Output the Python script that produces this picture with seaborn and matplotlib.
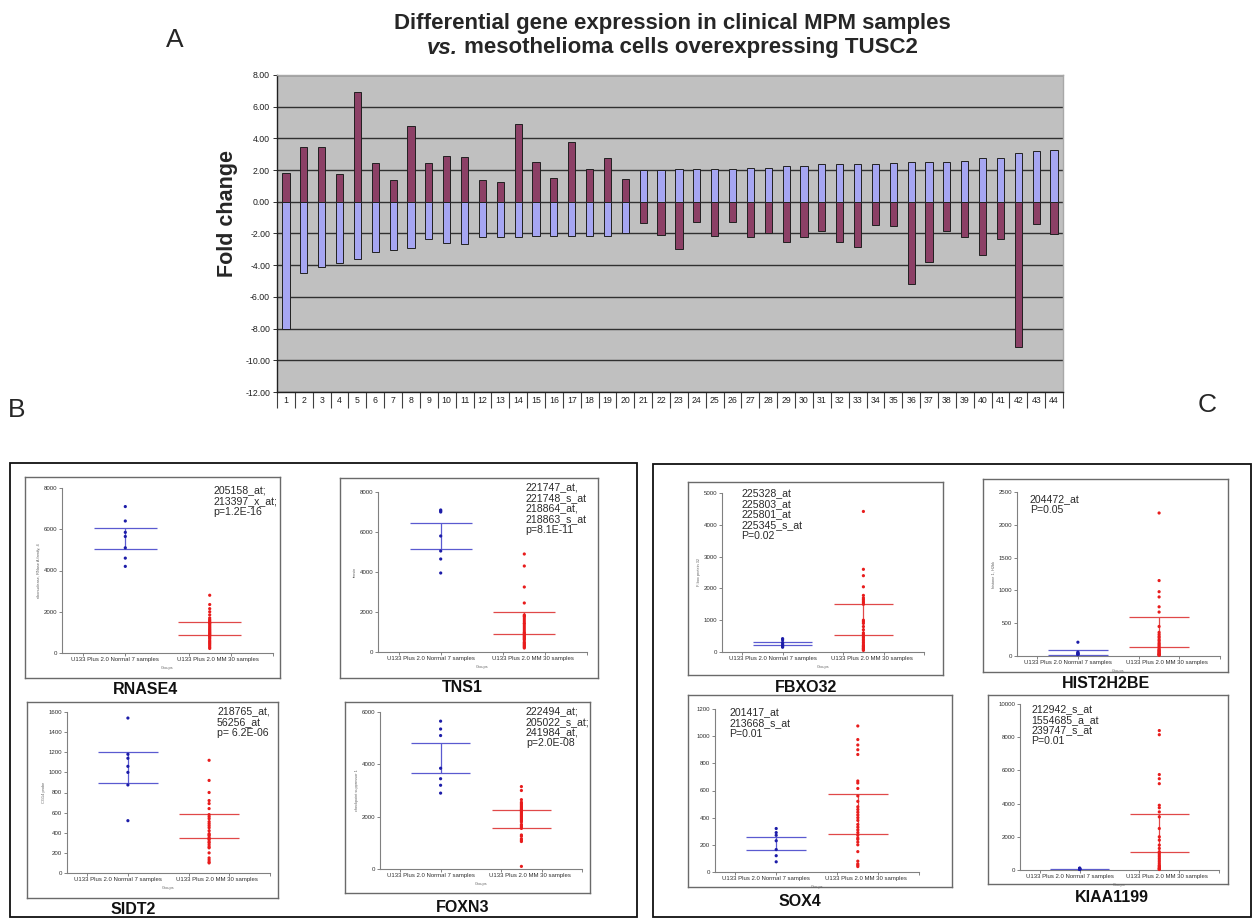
import numpy as np
import pandas as pd
import matplotlib
matplotlib.use("Agg")
import matplotlib.pyplot as plt
import seaborn as sns
from matplotlib.patches import Rectangle

W, H = 1252, 918

# ---- panel A: fold change per gene ----
genes = [str(i) for i in range(1, 45)]
mpm_fc = [1.83, 3.47, 3.47, 1.77, 6.95, 2.46, 1.39, 4.76, 2.46, 2.88,
          2.84, 1.39, 1.28, 4.88, 2.53, 1.52, 3.75, 2.08, 2.74, 1.45,
          -1.33, -2.10, -2.95, -1.28, -2.17, -1.30, -2.19, -1.98, -2.53, -2.19,
          -1.83, -2.53, -2.88, -1.47, -1.54, -5.20, -3.79, -1.83, -2.19, -3.33,
          -2.32, -9.18, -1.39, -2.02]
tusc2_fc = [-8.00, -4.48, -4.10, -3.87, -3.64, -3.16, -3.07, -2.93, -2.32, -2.61,
            -2.67, -2.23, -2.23, -2.23, -2.17, -2.17, -2.13, -2.13, -2.13, -2.00,
            2.00, 2.00, 2.06, 2.06, 2.08, 2.08, 2.15, 2.15, 2.23, 2.29,
            2.36, 2.36, 2.40, 2.40, 2.46, 2.53, 2.53, 2.53, 2.57, 2.74,
            2.74, 3.05, 3.18, 3.26]

# ---- panels B/C: expression per sample ----
groups = ["U133 Plus 2.0 Normal 7 samples", "U133 Plus 2.0 MM 30 samples"]

rnase4_normal = [7100, 6400, 5850, 5650, 5100, 4600, 4200]
rnase4_mm = [2800, 2350, 2150, 2000, 1850, 1700, 1620, 1560, 1500, 1450, 1400, 1320, 1250, 1180, 1120,
             1060, 1000, 950, 900, 850, 800, 740, 680, 600, 540, 480, 420, 350, 280, 220]
rnase4_lines = [[6050, 5030], [1480, 870]]

tns1_normal = [7100, 7050, 7000, 5800, 5050, 4650, 3950]
tns1_mm = [4900, 4300, 3250, 2450, 1850, 1800, 1750, 1650, 1550, 1450, 1400, 1300, 1200, 1100, 1000,
           950, 900, 850, 800, 750, 700, 650, 600, 500, 450, 400, 350, 300, 250, 200]
tns1_lines = [[6450, 5150], [2000, 900]]

sidt2_normal = [1540, 1180, 1140, 1060, 1000, 875, 520]
sidt2_mm = [1120, 920, 800, 720, 690, 640, 580, 560, 540, 510, 490, 470, 450, 420, 390,
            380, 370, 350, 340, 330, 310, 300, 280, 260, 250, 200, 150, 130, 110, 100]
sidt2_lines = [[1200, 890], [590, 345]]

foxn3_normal = [5650, 5350, 5100, 3850, 3450, 3200, 2900]
foxn3_mm = [3150, 3000, 2650, 2550, 2500, 2450, 2400, 2350, 2300, 2250, 2200, 2150, 2100, 2050, 2000,
            1950, 1900, 1850, 1800, 1700, 1650, 1600, 1550, 1300, 1250, 1150, 1100, 1050, 2250, 100]
foxn3_lines = [[4800, 3680], [2240, 1570]]

fbxo32_normal = [420, 380, 300, 250, 200, 180, 150]
fbxo32_mm = [4420, 2600, 2400, 2050, 1780, 1700, 1650, 1600, 1550, 1500, 1000, 950, 900, 800, 700,
             600, 550, 500, 450, 400, 350, 300, 250, 200, 180, 150, 120, 100, 80, 50]
fbxo32_lines = [[330, 220], [1500, 550]]

hist2h2be_normal = [210, 60, 45, 40, 30, 25, 20]
hist2h2be_mm = [2180, 1150, 980, 900, 750, 670, 450, 360, 330, 300, 280, 250, 230, 200, 180,
                160, 140, 120, 100, 90, 80, 70, 60, 50, 40, 30, 25, 20, 15, 10]
hist2h2be_lines = [[95, 15], [600, 140]]

sox4_normal = [320, 290, 270, 230, 165, 120, 75]
sox4_mm = [1075, 975, 935, 900, 865, 670, 655, 615, 560, 520, 480, 460, 440, 420, 400,
           380, 350, 330, 310, 290, 270, 250, 240, 220, 200, 150, 80, 60, 50, 40]
sox4_lines = [[255, 165], [575, 280]]

kiaa1199_normal = [120, 90, 80, 60, 50, 40, 30]
kiaa1199_mm = [8400, 8150, 5750, 5500, 5200, 3900, 3750, 3500, 3200, 2500, 2000, 1800, 1500, 1300, 1100,
               1000, 900, 800, 700, 600, 500, 400, 300, 250, 200, 150, 100, 80, 50, 30]
kiaa1199_lines = [[60, 20], [3400, 1100]]

sns.set_theme(style="white")
plt.rcParams["font.family"] = ["Liberation Sans", "DejaVu Sans"]

fig = plt.figure(figsize=(W / 100, H / 100), dpi=100)


def px_axes(left, top, right, bottom):
    return fig.add_axes([left / W, 1 - bottom / H, (right - left) / W, (bottom - top) / H])


def px_text(x, y, s, **kw):
    return fig.text(x / W, 1 - y / H, s, **kw)


# ---------------- panel A ----------------
bar_df = pd.DataFrame({
    "gene": genes * 2,
    "series": ["MPM"] * len(genes) + ["TUSC2"] * len(genes),
    "fold": mpm_fc + tusc2_fc,
})
ax = px_axes(277, 75, 1063, 392)
ax.set_facecolor("#c0c0c0")
sns.barplot(data=bar_df, x="gene", y="fold", hue="series", order=genes,
            hue_order=["MPM", "TUSC2"], palette=["#993366", "#9999ff"],
            dodge=False, width=0.4, edgecolor="#202020", linewidth=0.7,
            errorbar=None, legend=False, ax=ax)
ax.set_ylim(-12, 8)
ax.set_xlim(-0.5, 43.5)
yt = np.arange(-12, 9, 2)
ax.set_yticks(yt)
ax.set_yticklabels([f"{v:.2f}" for v in yt], fontsize=6.3, color="#202020")
ax.yaxis.grid(True, color="#303030", lw=1)
ax.set_axisbelow(True)
ax.set_xlabel("")
ax.set_ylabel("")
ax.tick_params(axis="y", left=True, length=3, width=0.7, color="#303030", pad=2)
ax.set_xticks(range(len(genes)))
ax.set_xticklabels(genes, fontsize=6.3, color="#202020")
ax.set_xticks(np.arange(-0.5, len(genes), 1), minor=True)
ax.tick_params(axis="x", which="major", length=0, pad=3)
ax.tick_params(axis="x", which="minor", bottom=True, length=11.5, width=0.8, color="#404040")
for s in ["left", "bottom"]:
    ax.spines[s].set_color("#202020")
    ax.spines[s].set_linewidth(1)
for s in ["top", "right"]:
    ax.spines[s].set_color("#a8a8a8")
    ax.spines[s].set_linewidth(1)

px_text(228, 213, "Fold change", rotation=90, ha="center", va="center",
        fontsize=15.5, fontweight="bold")
px_text(672, 23, "Differential gene expression in clinical MPM samples",
        ha="center", va="center", fontsize=16, fontweight="bold")
tv = px_text(0, 48, "vs.", ha="left", va="center", fontsize=16,
             fontweight="bold", fontstyle="italic")
tr = px_text(0, 48, " mesothelioma cells overexpressing TUSC2", ha="left",
             va="center", fontsize=16, fontweight="bold")
renderer = fig.canvas.get_renderer()
wv = tv.get_window_extent(renderer).width
wr = tr.get_window_extent(renderer).width
x0 = 672 - (wv + wr) / 2
tv.set_x(x0 / W)
tr.set_x((x0 + wv) / W)

px_text(175, 40, "A", ha="center", va="center", fontsize=19)
px_text(17, 410, "B", ha="center", va="center", fontsize=19)
px_text(1207, 405, "C", ha="center", va="center", fontsize=19)

# panel borders
fig.add_artist(Rectangle((10 / W, 1 - 917 / H), 627 / W, 454 / H, transform=fig.transFigure,
                         fill=False, ec="#101010", lw=1.3))
fig.add_artist(Rectangle((653 / W, 1 - 917 / H), 598 / W, 453 / H, transform=fig.transFigure,
                         fill=False, ec="#101010", lw=1.3))


# ---------------- panels B and C ----------------
def scatter_panel(frame, box, normal, mm, lines, ymax, ystep, note, note_xy,
                  name, name_xy, ylab):
    fr = px_axes(*frame)
    fr.set_xticks([])
    fr.set_yticks([])
    fr.set_facecolor("white")
    for s in fr.spines.values():
        s.set_color("#6a6a6a")
        s.set_linewidth(1)

    ax = px_axes(*box)
    ax.set_facecolor("none")
    df = pd.DataFrame({"group": [groups[0]] * len(normal) + [groups[1]] * len(mm),
                       "value": normal + mm})
    sns.stripplot(data=df, x="group", y="value", hue="group", order=groups,
                  palette=["#1c1ca8", "#e81c1c"], jitter=False, size=2.3,
                  linewidth=0, legend=False, ax=ax, clip_on=False, zorder=3)
    for i, (hi, lo) in enumerate(lines):
        c = "#5a5ad0" if i == 0 else "#e04848"
        ax.hlines([hi, lo], i - 0.37, i + 0.37, color=c, lw=0.9, zorder=2)
        ax.vlines(i, lo, hi, color=c, lw=0.9, zorder=2)
    ax.set_xlim(-0.75, 1.75)
    ax.set_ylim(0, ymax)
    ax.set_yticks(np.arange(0, ymax + 1, ystep))
    ax.set_yticklabels([f"{int(v)}" for v in np.arange(0, ymax + 1, ystep)],
                       fontsize=4.4, color="#303030")
    # SigmaPlot puts the group names a little off the data columns
    ax.set_xticks([-0.12, 1.1])
    ax.set_xticklabels(groups, fontsize=4.3, color="#303030")
    ax.set_xticks([-0.5, 0.0, 0.75, 1.25, 1.75], minor=True)
    ax.tick_params(axis="both", which="both", length=2, width=0.6, color="#707070", pad=1.5)
    ax.tick_params(axis="x", which="major", length=0, pad=3)
    ax.tick_params(left=True, bottom=True)
    ax.tick_params(axis="x", which="minor", bottom=True)
    ax.set_xlabel("Groups", fontsize=2.8, color="#606060", labelpad=3)
    ax.set_ylabel(ylab, fontsize=2.8, color="#606060", labelpad=2)
    for s in ["top", "right"]:
        ax.spines[s].set_visible(False)
    for s in ["left", "bottom"]:
        ax.spines[s].set_color("#808080")
        ax.spines[s].set_linewidth(0.8)

    px_text(note_xy[0], note_xy[1], note, ha="left", va="top", fontsize=7.6,
            linespacing=1.1, color="#2a2a2a")
    px_text(name_xy[0], name_xy[1], name, ha="center", va="center", fontsize=11.5,
            fontweight="bold", color="#111111")


scatter_panel((25, 477, 280, 678), (62, 488, 273, 653), rnase4_normal, rnase4_mm,
              rnase4_lines, 8000, 2000, "205158_at;\n213397_x_at;\np=1.2E-16", (213, 485),
              "RNASE4", (145, 689), "ribonuclease, RNase A family, 4")
scatter_panel((340, 478, 598, 678), (378, 492, 587, 652), tns1_normal, tns1_mm,
              tns1_lines, 8000, 2000,
              "221747_at,\n221748_s_at\n218864_at,\n218863_s_at\np=8.1E-11", (525, 482),
              "TNS1", (462, 688), "tensin")
scatter_panel((27, 702, 278, 898), (67, 712, 270, 873), sidt2_normal, sidt2_mm,
              sidt2_lines, 1600, 200, "218765_at,\n56256_at\np= 6.2E-06", (217, 706),
              "SIDT2", (133, 909), "CG14 probe")
scatter_panel((345, 702, 590, 893), (380, 712, 582, 869), foxn3_normal, foxn3_mm,
              foxn3_lines, 6000, 2000,
              "222494_at;\n205022_s_at;\n241984_at,\np=2.0E-08", (526, 706),
              "FOXN3", (463, 907), "checkpoint suppressor 1")
scatter_panel((688, 482, 943, 675), (722, 493, 924, 652), fbxo32_normal, fbxo32_mm,
              fbxo32_lines, 5000, 1000,
              "225328_at\n225803_at\n225801_at\n225345_s_at\nP=0.02", (741, 488),
              "FBXO32", (806, 687), "F-box protein 32")
scatter_panel((983, 479, 1228, 672), (1017, 492, 1220, 656), hist2h2be_normal, hist2h2be_mm,
              hist2h2be_lines, 2500, 500, "204472_at\nP=0.05", (1030, 494),
              "HIST2H2BE", (1106, 684), "histone 1, H2bk")
scatter_panel((688, 695, 952, 887), (715, 709, 919, 872), sox4_normal, sox4_mm,
              sox4_lines, 1200, 200, "201417_at\n213668_s_at\nP=0.01", (729, 707),
              "SOX4", (800, 902), "")
scatter_panel((988, 695, 1228, 884), (1020, 704, 1219, 870), kiaa1199_normal, kiaa1199_mm,
              kiaa1199_lines, 10000, 2000,
              "212942_s_at\n1554685_a_at\n239747_s_at\nP=0.01", (1031, 704),
              "KIAA1199", (1112, 897), "")

fig.savefig("out.png", dpi=100, facecolor="white")
